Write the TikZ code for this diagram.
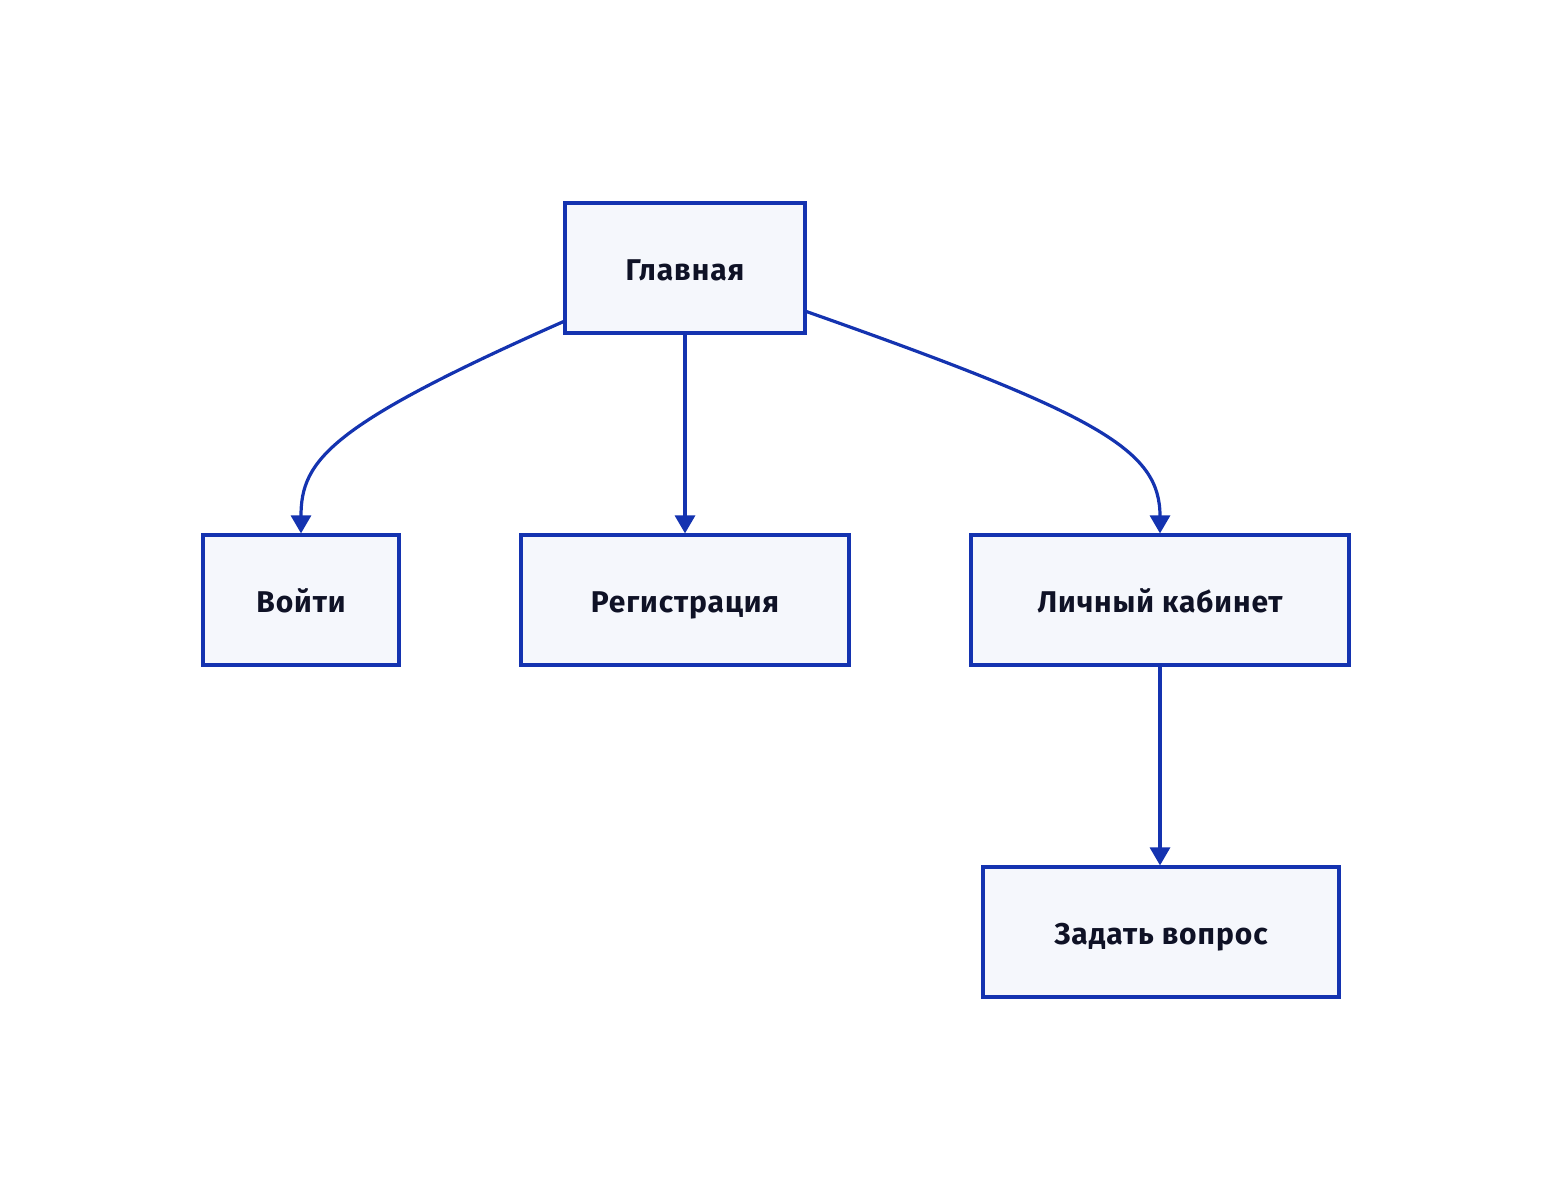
\documentclass[tikz,border=0pt]{standalone}
\usepackage{fontspec}
\setmainfont{Fira Sans}
\newfontfamily\boxfont[LetterSpace=3]{Fira Sans}
\usetikzlibrary{arrows.meta,calc}
\definecolor{edge}{HTML}{1433B0}
\definecolor{boxfill}{HTML}{F5F7FC}
\definecolor{txt}{HTML}{0F1226}
\tikzset{
  box/.style={draw=edge, fill=boxfill, line width=3.2pt, minimum height=130pt, inner sep=0pt,
    text height=24pt, text depth=0pt,
    font=\boxfont\fontsize{30}{36}\selectfont\bfseries, text=txt},
  conn/.style={draw=edge, line width=3.2pt, -{Triangle[width=20pt,length=18pt]}}
}
\begin{document}
\begin{tikzpicture}[x=1pt,y=-1pt]
\useasboundingbox (0,0) rectangle (1552,1200);
\node[box, minimum width=240pt] (g) at (685,268) {Главная};
\node[box, minimum width=196pt] (v) at (301,600) {Войти};
\node[box, minimum width=328pt] (r) at (685,600) {Регистрация};
\node[box, minimum width=378pt] (l) at (1160,600) {Личный кабинет};
\node[box, minimum width=356pt] (z) at (1161,932) {Задать вопрос};
\draw[conn] ([yshift=13pt]g.south west) .. controls (330,425) and (301,460) .. (v.north);
\draw[conn] (g.south) -- (r.north);
\draw[conn] ([yshift=23pt]g.south east) .. controls (1100,415) and (1160,450) .. (l.north);
\draw[conn] (l.south) -- (l.south |- z.north);
\end{tikzpicture}
\end{document}
